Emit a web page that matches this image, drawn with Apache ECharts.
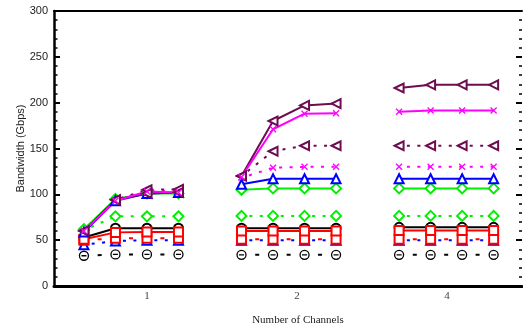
<!DOCTYPE html>
<html>
<head>
<meta charset="utf-8">
<script src="https://cdn.jsdelivr.net/npm/echarts@6/dist/echarts.min.js"></script>
<style>html,body{margin:0;padding:0;background:#fff}#c{width:523px;height:331px}</style>
</head>
<body>
<div id="c"></div>
<script>
// x slots of the points: 4 per channel group (1, 2, 4 channels)
const xSlots = [1, 2, 3, 4, 6, 7, 8, 9, 11, 12, 13, 14];
const tickPositions = [3, 7.76, 12.52];
const tickLabels = ['1', '2', '4'];

// values (Gbps), 4 per group: group "1", group "2", group "4"
const blackSolid    = [53, 63, 63, 63,   63, 63, 63, 63,      64, 64, 64, 64];
const blackDashed   = [33, 34.5, 34.5, 34.5, 34, 34, 34, 34,  34, 34, 34, 34];
const redSolid      = [51, 58.5, 59, 59, 60, 60, 60, 60,      60.5, 60.5, 60.5, 60.5];
const redDashed     = [50, 52, 52, 52,   51, 51, 51, 51,      51, 51, 51, 51];
const blueSolid     = [59, 93, 101, 102, 111, 117, 117, 117,  117, 117, 117, 117];
const blueDashed    = [45, 49, 50, 50,   50, 50, 50, 50,      50, 50, 50, 50];
const greenSolid    = [62, 95, 101, 101, 105, 106.5, 106.5, 106.5, 106.5, 106.5, 106.5, 106.5];
const greenDashed   = [61, 76, 76, 76,   76.5, 76.5, 76.5, 76.5, 76.5, 76.5, 76.5, 76.5];
const magentaSolid  = [60, 93, 103, 102, 119, 171, 188, 188.5, 190, 191.5, 191.5, 191.5];
const magentaDashed = [60, 93, 103, 104, 118, 129, 130, 130,  130, 130, 130, 130];
const purpleSolid   = [60, 94, 101, 102, 120, 180, 197, 199,  216, 219.5, 219.5, 219.5];
const purpleDashed  = [60, 94, 105, 105.5, 120, 147, 153, 153, 153, 153, 153, 153];

function build(vals) {
  const out = [];
  for (let g = 0; g < 3; g++) {
    for (let i = 0; i < 4; i++) out.push([xSlots[g * 4 + i], vals[g * 4 + i]]);
    if (g < 2) out.push([xSlots[g * 4 + 3] + 1, null]);
  }
  return out;
}

const CIRCLE_BAR = 'path://M5,0A5,5,0,1,1,5,10A5,5,0,1,1,5,0ZM2.2,5L7.8,5';
const CROSS = 'path://M0,0L10,10M10,0L0,10';
const ONE_DASH = { type: [4, 27.4], dashOffset: 17.7 };
const TWO_DASH = { type: [3, 7.47], dashOffset: 2.67 };

const defs = [
  { v: blackDashed, c: '#000000', sym: CIRCLE_BAR, size: 9, dash: ONE_DASH, path: true, fill: '#fff' },
  { v: blueDashed, c: '#0000ff', sym: 'emptyTriangle', size: 9, dash: TWO_DASH },
  { v: redDashed, c: '#ff0000', sym: 'emptyRect', size: 9, dash: ONE_DASH },
  { v: blackSolid, c: '#000000', sym: 'emptyCircle', size: 9 },
  { v: redSolid, c: '#ff0000', sym: 'emptyRect', size: 9 },
  { v: greenDashed, c: '#00ee00', sym: 'emptyDiamond', size: 10, dash: TWO_DASH },
  { v: greenSolid, c: '#00ee00', sym: 'emptyDiamond', size: 10 },
  { v: blueSolid, c: '#0000ff', sym: 'emptyTriangle', size: 9 },
  { v: magentaDashed, c: '#ff00ff', sym: CROSS, size: 6, dash: TWO_DASH, path: true, fill: '#ff00ff' },
  { v: purpleDashed, c: '#6e0c50', sym: 'emptyTriangle', size: 9, dash: TWO_DASH, rot: 90 },
  { v: purpleSolid, c: '#6e0c50', sym: 'emptyTriangle', size: 9, rot: 90 },
  { v: magentaSolid, c: '#ff00ff', sym: CROSS, size: 6, path: true, fill: '#ff00ff' }
];

const series = defs.map(function (d) {
  const ls = { color: d.c, width: 2 };
  if (d.dash) { ls.type = d.dash.type; ls.dashOffset = d.dash.dashOffset; }
  return {
    type: 'line',
    data: build(d.v),
    connectNulls: false,
    symbol: d.sym,
    symbolSize: d.size,
    symbolRotate: d.rot || 0,
    showSymbol: true,
    lineStyle: ls,
    itemStyle: d.path ? { color: d.fill, borderColor: d.c, borderWidth: 1.3 } : { color: d.c, borderWidth: 1.2 },
    emphasis: { disabled: true },
    animation: false
  };
});

const chart = echarts.init(document.getElementById('c'), null, { renderer: 'canvas' });
chart.setOption({
  animation: false,
  backgroundColor: '#fff',
  grid: { left: 54, right: 1, top: 11, bottom: 45 },
  xAxis: [
    {
      type: 'value', min: 0.05, max: 14.9, position: 'bottom',
      splitLine: { show: false },
      axisLine: { show: true, onZero: false, lineStyle: { color: '#000', width: 3 } },
      axisTick: { show: false },
      axisLabel: {
        customValues: tickPositions,
        formatter: function (val) {
          const i = tickPositions.indexOf(val);
          return i >= 0 ? tickLabels[i] : '';
        },
        margin: 5,
        fontFamily: 'Liberation Serif', fontSize: 11, color: '#444'
      },
      name: 'Number of Channels', nameLocation: 'middle', nameGap: 29, nameMoveOverlap: false,
      nameTextStyle: { fontFamily: 'Liberation Serif', fontSize: 11, color: '#222', padding: [0, 0, 0, 20] }
    },
    {
      type: 'value', min: 0.05, max: 14.9, position: 'top',
      splitLine: { show: false },
      axisLine: { show: true, onZero: false, lineStyle: { color: '#000', width: 2 } },
      axisTick: { show: false }, axisLabel: { show: false }
    }
  ],
  yAxis: [
    {
      type: 'value', min: 0, max: 300, interval: 50, position: 'left',
      splitLine: { show: false },
      axisLine: { show: true, onZero: false, lineStyle: { color: '#000', width: 2.5 } },
      axisTick: { show: true, inside: true, length: 6, lineStyle: { color: '#000', width: 2 } },
      minorTick: { show: true, splitNumber: 5, length: 3.5, lineStyle: { color: '#000', width: 1.5 } },
      axisLabel: { margin: 6, fontFamily: 'Liberation Sans', fontSize: 11, color: '#222' },
      name: 'Bandwidth (Gbps)', nameLocation: 'middle', nameGap: 28, nameMoveOverlap: false,
      nameTextStyle: { fontFamily: 'Liberation Sans', fontSize: 11, color: '#222' }
    },
    {
      type: 'value', min: 0, max: 300, interval: 50, position: 'right',
      splitLine: { show: false },
      axisLine: { show: false },
      axisTick: { show: true, inside: true, length: 6, lineStyle: { color: '#000', width: 2 } },
      minorTick: { show: true, splitNumber: 5, length: 3, lineStyle: { color: '#000', width: 1.5 } },
      axisLabel: { show: false }
    }
  ],
  series: series
});
</script>
</body>
</html>
